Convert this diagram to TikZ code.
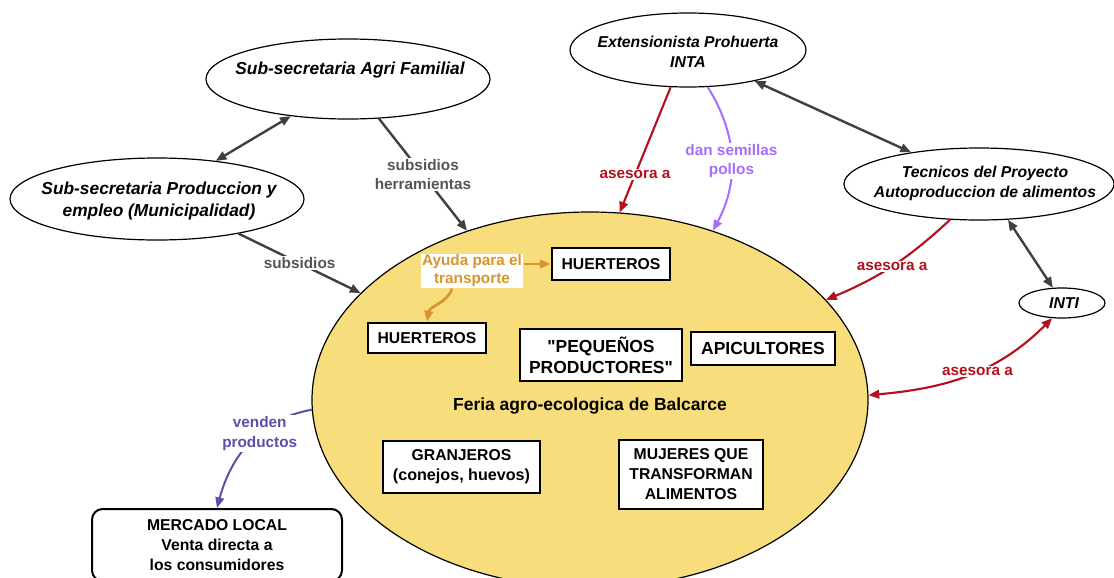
\documentclass[tikz,border=0pt]{standalone}
\usepackage{fontspec}
\setmainfont{Liberation Sans}
\usetikzlibrary{shapes.geometric,arrows.meta,positioning}

\definecolor{feriafill}{RGB}{248,221,124}
\definecolor{darkarrow}{RGB}{64,64,64}
\definecolor{graytext}{RGB}{85,85,85}
\definecolor{asesorared}{RGB}{180,16,32}
\definecolor{semillas}{RGB}{165,110,255}
\definecolor{vendenblue}{RGB}{90,80,170}
\definecolor{ayudaorange}{RGB}{215,150,45}

\begin{document}
\begin{tikzpicture}[
  x = 0.75pt,
  y = -0.75pt,
  tip/.style = {
    -{Triangle[length = 8pt, width = 6.5pt]}
  },
  dbltip/.style = {
    {Triangle[length = 8pt, width = 6.5pt]}-{Triangle[length = 8pt, width = 6.5pt]}
  },
  party/.style = {
    shape = ellipse,
    draw = black,
    fill = white,
    line width = 0.9pt,
    inner sep = 0pt,
  },
  partytext/.style = {
    font = \bfseries\itshape\fontsize{11.8}{15}\selectfont,
    align = center,
  },
  bigtext/.style = {
    partytext,
    font = \bfseries\itshape\fontsize{13}{16.5}\selectfont,
  },
  box/.style = {
    draw = black,
    fill = white,
    line width = 1.1pt,
    inner sep = 0pt,
    align = center,
    font = \bfseries\fontsize{11.8}{15}\selectfont,
  },
  bigbox/.style = {
    box,
    font = \bfseries\fontsize{13.1}{16}\selectfont,
  },
  thickbox/.style = {
    box,
    line width = 2.2pt,
  },
  elabel/.style = {
    fill = white,
    inner sep = 1pt,
    align = center,
    font = \bfseries\fontsize{11.5}{14.5}\selectfont,
  },
  grayarrow/.style = {tip, line width = 1.8pt, color = darkarrow},
  dblarrow/.style = {dbltip, line width = 1.8pt, color = darkarrow},
  redarrow/.style = {tip, line width = 1.6pt, color = asesorared},
  purplearrow/.style = {tip, line width = 1.5pt, color = semillas},
  vendenarrow/.style = {tip, line width = 1.5pt, color = vendenblue},
  ayudaarrow/.style = {tip, line width = 2pt, color = ayudaorange},
]
  \useasboundingbox (0, 0) rectangle (1114, 578);

  % la feria
  \node[shape = ellipse, draw = black, fill = feriafill, line width = 0.9pt,
        inner sep = 0pt, minimum width = 417pt, minimum height = 282pt]
        (feria) at (590, 400) {};
  \node[font = \bfseries\fontsize{13.1}{16}\selectfont] (feriatxt) at (590, 406)
        {Feria agro-ecologica de Balcarce};

  % actores
  \node[party, minimum width = 213pt, minimum height = 60pt] (agri) at (348, 79) {};
  \node[bigtext] (agritxt) at (350, 70) {Sub-secretaria Agri Familial};
  \node[party, minimum width = 220.5pt, minimum height = 61.5pt] (prod) at (157, 199) {};
  \node[bigtext] (prodtxt) at (159, 201) {Sub-secretaria Produccion y\\empleo (Municipalidad)};
  \node[party, minimum width = 177pt, minimum height = 55.5pt] (ext) at (688, 50) {};
  \node[partytext] (exttxt) at (688, 52) {Extensionista Prohuerta\\INTA};
  \node[party, minimum width = 202.5pt, minimum height = 54pt] (tec) at (979, 184) {};
  \node[partytext] (tectxt) at (985, 183) {Tecnicos del Proyecto\\Autoproduccion de alimentos};
  \node[party, minimum width = 64.5pt, minimum height = 22.5pt] (inti) at (1062, 303) {};
  \node[partytext] (intitxt) at (1064, 303) {INTI};

  % grupos dentro de la feria
  \node[thickbox, minimum width = 88.5pt, minimum height = 24pt] (huert1) at (611, 264) {HUERTEROS};
  \node[thickbox, minimum width = 88.5pt, minimum height = 22.5pt] (huert2) at (427, 338) {HUERTEROS};
  \node[bigbox, minimum width = 121.5pt, minimum height = 39pt] (pequenos) at (601, 355)
        {\textquotedbl PEQUEÑOS\\PRODUCTORES\textquotedbl};
  \node[bigbox, minimum width = 108pt, minimum height = 24.75pt] (apic) at (763, 348.5) {APICULTORES};
  \node[box, minimum width = 117.75pt, minimum height = 39pt] (granj) at (461.5, 467)
        {GRANJEROS\\{\fontsize{12.1}{14}\selectfont (conejos, huevos)}};
  \node[box, minimum width = 108pt, minimum height = 51.75pt] (mujeres) at (691, 474.5)
        {MUJERES QUE\\TRANSFORMAN\\ALIMENTOS};
  \node[box, line width = 1.5pt, rounded corners = 8pt, minimum width = 187.5pt,
        minimum height = 54pt] (mercado) at (217, 545)
        {MERCADO LOCAL\\Venta directa a\\los consumidores};

  \node[elabel, text = ayudaorange, font = \bfseries\fontsize{11.5}{13.5}\selectfont]
        (ayuda) at (472, 271) {Ayuda para el\\transporte};

  % relaciones
  \draw[dblarrow] (agri.213) -- (prod.33);
  \draw[grayarrow] (agri.308) -- node[elabel, text = graytext] {subsidios\\herramientas} (feria.126);
  \draw[grayarrow] (prod.337) -- node[elabel, text = graytext] {subsidios} (feria.155);
  \draw[redarrow] (ext.245) -- node[pos = 0.7, elabel, text = asesorared] {asesora a} (feria.81);
  \draw[purplearrow] (ext.298) to[bend left = 30]
        node[pos = 0.52, elabel, text = semillas] {dan semillas\\pollos} (feria.54);
  \draw[dblarrow] (ext.335) -- (tec.155);
  \draw[redarrow] (tec.231) to[bend left = 10] node[elabel, text = asesorared] {asesora a} (feria.23);
  \draw[dblarrow] (tec.309) -- (inti.121);
  \draw[redarrow, dbltip] (inti.237) to[out = 225, in = 5]
        node[pos = 0.45, elabel, text = asesorared] {asesora a} (feria.1);
  \draw[vendenarrow] (feria.182) to[out = 190, in = 75]
        node[pos = 0.4, elabel, text = vendenblue] {venden\\productos} (mercado.north);
  \draw[ayudaarrow] (ayuda.east |- huert1.west) -- (huert1.west);
  \draw[ayudaarrow] ([xshift = -15pt]ayuda.south) to[out = 250, in = 80] (huert2.north);
\end{tikzpicture}
\end{document}
